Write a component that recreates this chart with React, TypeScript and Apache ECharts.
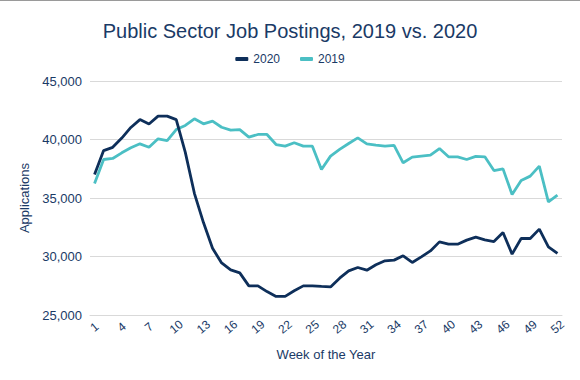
import React, { useEffect, useRef } from "react";
import * as echarts from "echarts";

const weeks: string[] = Array.from({ length: 52 }, (_, i) => String(i + 1));

const series2020: number[] = [
  37000, 39050, 39330, 40120, 41030, 41700, 41330, 42000, 42000, 41700,
  38900, 35400, 32900, 30700, 29450, 28850, 28600, 27490, 27490, 27000,
  26590, 26590, 27070, 27490, 27490, 27440, 27400, 28150, 28770, 29060,
  28830, 29290, 29630, 29690, 30060, 29490, 29970, 30480, 31250, 31050,
  31050, 31400, 31650, 31420, 31280, 32050, 30200, 31540, 31540, 32340,
  30830, 30260,
];

const series2019: number[] = [
  36240, 38290, 38380, 38860, 39290, 39630, 39340, 40060, 39910, 40850,
  41200, 41770, 41340, 41570, 41050, 40800, 40850, 40200, 40430, 40430,
  39570, 39430, 39720, 39430, 39430, 37440, 38580, 39150, 39660, 40140,
  39630, 39520, 39430, 39490, 38010, 38490, 38580, 38660, 39230, 38520,
  38520, 38290, 38560, 38520, 37350, 37490, 35300, 36500, 36870, 37720,
  34670, 35240,
];

const seriesNames: string[] = ["2020", "2019"];

const NAVY = "#0e2f5a";
const TEAL = "#4bbfc4";
const TEXT = "#1a3a66";
const FONT = "'Liberation Sans', Arial, sans-serif";

export default function App() {
  const ref = useRef<HTMLDivElement>(null);
  useEffect(() => {
    if (!ref.current) return;
    const chart = echarts.init(ref.current, null, { renderer: "svg" });
    chart.setOption({
      animation: false,
      backgroundColor: "#ffffff",
      textStyle: { fontFamily: FONT },
      title: {
        text: "Public Sector Job Postings, 2019 vs. 2020",
        left: "center",
        top: 16,
        textStyle: { color: TEXT, fontSize: 20, fontWeight: "normal", fontFamily: FONT },
      },
      legend: {
        data: seriesNames,
        top: 48,
        left: "center",
        itemWidth: 13,
        itemHeight: 4,
        itemGap: 20,
        icon: "roundRect",
        textStyle: { color: TEXT, fontSize: 12, fontFamily: FONT },
      },
      graphic: [
        {
          type: "line",
          shape: { x1: 0, y1: 0.5, x2: 580, y2: 0.5 },
          style: { stroke: "#9a9a9a", lineWidth: 1 },
        },
      ],
      grid: { left: 90, right: 18, top: 81, bottom: 65 },
      xAxis: {
        type: "category",
        data: weeks,
        boundaryGap: true,
        name: "Week of the Year",
        nameLocation: "middle",
        nameGap: 33,
        nameTextStyle: { color: TEXT, fontSize: 13, fontFamily: FONT },
        axisLine: { show: true, lineStyle: { color: "#d9d9d9" } },
        axisTick: { show: false },
        axisLabel: {
          interval: 2,
          rotate: 40,
          align: "center",
          verticalAlign: "middle",
          color: TEXT,
          fontSize: 12,
          margin: 12,
          fontFamily: FONT,
        },
      },
      yAxis: {
        type: "value",
        min: 25000,
        max: 45000,
        interval: 5000,
        name: "Applications",
        nameLocation: "middle",
        nameGap: 58,
        nameTextStyle: { color: TEXT, fontSize: 13, fontFamily: FONT },
        axisLine: { show: false },
        axisTick: { show: false },
        splitLine: { lineStyle: { color: "#d9d9d9", width: 1 } },
        axisLabel: {
          color: TEXT,
          fontSize: 13,
          margin: 8,
          fontFamily: FONT,
          formatter: (v: number) => v.toLocaleString("en-US"),
        },
      },
      series: [
        {
          name: seriesNames[0],
          type: "line",
          data: series2020,
          showSymbol: false,
          symbol: "none",
          lineStyle: { color: NAVY, width: 2.8 },
          itemStyle: { color: NAVY },
          z: 3,
        },
        {
          name: seriesNames[1],
          type: "line",
          data: series2019,
          showSymbol: false,
          symbol: "none",
          lineStyle: { color: TEAL, width: 2.8 },
          itemStyle: { color: TEAL },
          z: 2,
        },
      ],
    });
    return () => chart.dispose();
  }, []);
  return (
    <div
      ref={ref}
      style={{ position: "fixed", left: 0, top: 0, width: 580, height: 380 }}
    />
  );
}
